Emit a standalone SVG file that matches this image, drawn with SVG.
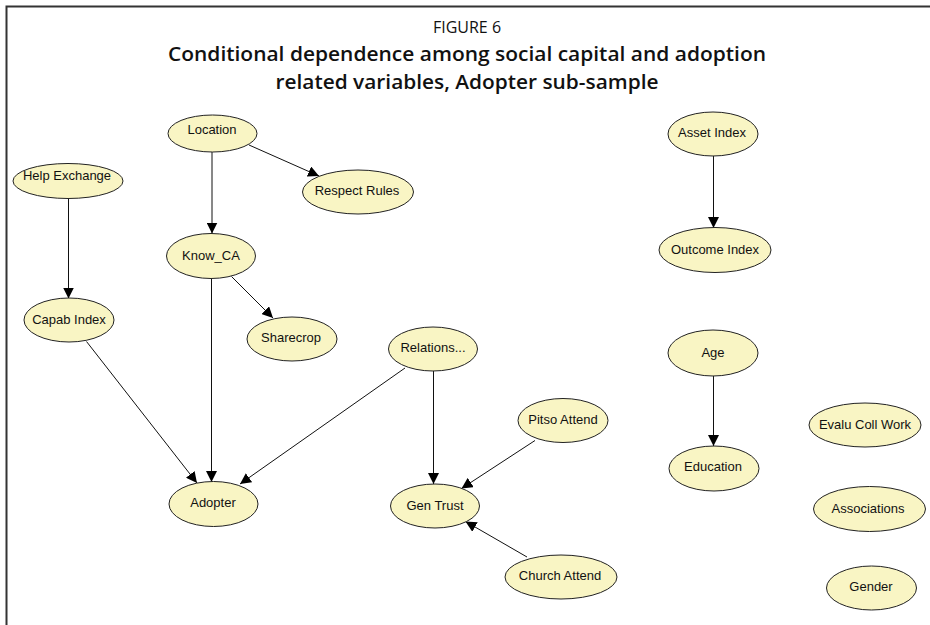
<svg xmlns="http://www.w3.org/2000/svg" width="930" height="625" viewBox="0 0 930 625">
  <style>
    .frame { fill: none; stroke: #333; stroke-width: 2; }
    .node ellipse { fill: #f9f5c4; stroke: #222; stroke-width: 1; }
    .node text { font-family: "Liberation Sans", Arial, sans-serif; font-size: 13px; fill: #111; text-anchor: middle; }
    .edge { stroke: #111; stroke-width: 1; fill: none; marker-end: url(#arrow); }
    .fig { font-family: "Open Sans", "Liberation Sans", sans-serif; font-size: 16px; fill: #111; text-anchor: middle; }
    .title { font-family: "Open Sans", "Liberation Sans", sans-serif; font-size: 19px; font-weight: 600; fill: #111; text-anchor: middle; }
  </style>
  <defs>
    <marker id="arrow" markerUnits="userSpaceOnUse" markerWidth="11" markerHeight="11" refX="11" refY="5.5" orient="auto">
      <path d="M0,0 L11,5.5 L0,11 z" fill="#000"/>
    </marker>
  </defs>

  <rect width="930" height="625" fill="#fff"/>
  <!-- frame lines -->
  <path class="frame" d="M6.5,625 V6.5 H930"/>

  <!-- heading -->
  <text class="fig" x="467" y="33">FIGURE 6</text>
  <text class="title" x="467" y="61" textLength="598" lengthAdjust="spacingAndGlyphs">Conditional dependence among social capital and adoption</text>
  <text class="title" x="467" y="89" textLength="383" lengthAdjust="spacingAndGlyphs">related variables, Adopter sub-sample</text>

  <!-- connectors -->
  <g id="edges">
    <line class="edge" x1="212" y1="152" x2="212" y2="233.5"/>
    <line class="edge" x1="249" y1="145" x2="319" y2="176"/>
    <line class="edge" x1="68.5" y1="198.5" x2="68.5" y2="298.5"/>
    <line class="edge" x1="231.5" y1="276.5" x2="273" y2="318"/>
    <line class="edge" x1="211.5" y1="278.5" x2="211.5" y2="482"/>
    <line class="edge" x1="86.5" y1="341.5" x2="197" y2="483"/>
    <line class="edge" x1="405" y1="368" x2="240" y2="484"/>
    <line class="edge" x1="433.5" y1="371" x2="433.5" y2="484"/>
    <line class="edge" x1="535" y1="440.5" x2="461.5" y2="488.5"/>
    <line class="edge" x1="527" y1="557" x2="465.5" y2="521.5"/>
    <line class="edge" x1="713.5" y1="156" x2="713.5" y2="228"/>
    <line class="edge" x1="713.5" y1="376" x2="713.5" y2="446"/>
  </g>

  <!-- nodes -->
  <g id="location" class="node"><ellipse cx="212.5" cy="133.5" rx="44.5" ry="18.5"/><text x="212" y="133.5">Location</text></g>
  <g id="help-exchange" class="node"><ellipse cx="68" cy="181" rx="55" ry="17.5"/><text x="67" y="179.5">Help Exchange</text></g>
  <g id="respect-rules" class="node"><ellipse cx="358" cy="192" rx="55.5" ry="22"/><text x="357" y="194.5">Respect Rules</text></g>
  <g id="know-ca" class="node"><ellipse cx="211" cy="256" rx="44.5" ry="22.5"/><text x="211" y="259.5">Know_CA</text></g>
  <g id="capab-index" class="node"><ellipse cx="69" cy="320" rx="45" ry="22"/><text x="69" y="323.5">Capab Index</text></g>
  <g id="sharecrop" class="node"><ellipse cx="292" cy="339" rx="45" ry="22"/><text x="291" y="342">Sharecrop</text></g>
  <g id="relations" class="node"><ellipse cx="433" cy="349" rx="44.5" ry="22"/><text x="433" y="352">Relations...</text></g>
  <g id="adopter" class="node"><ellipse cx="213.5" cy="504" rx="44.5" ry="22.5"/><text x="213" y="507">Adopter</text></g>
  <g id="gen-trust" class="node"><ellipse cx="435" cy="506" rx="44.5" ry="22"/><text x="435" y="509.5">Gen Trust</text></g>
  <g id="pitso-attend" class="node"><ellipse cx="563" cy="420.5" rx="45" ry="22"/><text x="563" y="424">Pitso Attend</text></g>
  <g id="church-attend" class="node"><ellipse cx="561" cy="577" rx="56" ry="22"/><text x="560" y="579.5">Church Attend</text></g>
  <g id="asset-index" class="node"><ellipse cx="713" cy="134" rx="45" ry="22"/><text x="712" y="137">Asset Index</text></g>
  <g id="outcome-index" class="node"><ellipse cx="715" cy="250" rx="56" ry="22.5"/><text x="715" y="253.5">Outcome Index</text></g>
  <g id="age" class="node"><ellipse cx="713" cy="353" rx="45" ry="23"/><text x="713" y="357">Age</text></g>
  <g id="education" class="node"><ellipse cx="714" cy="468.5" rx="45" ry="22.5"/><text x="713" y="471">Education</text></g>
  <g id="evalu-coll-work" class="node"><ellipse cx="865" cy="425" rx="56" ry="22"/><text x="865" y="429">Evalu Coll Work</text></g>
  <g id="associations" class="node"><ellipse cx="869.5" cy="509" rx="56" ry="22.5"/><text x="868" y="513">Associations</text></g>
  <g id="gender" class="node"><ellipse cx="871.5" cy="588" rx="45" ry="22"/><text x="871" y="591">Gender</text></g>
</svg>
